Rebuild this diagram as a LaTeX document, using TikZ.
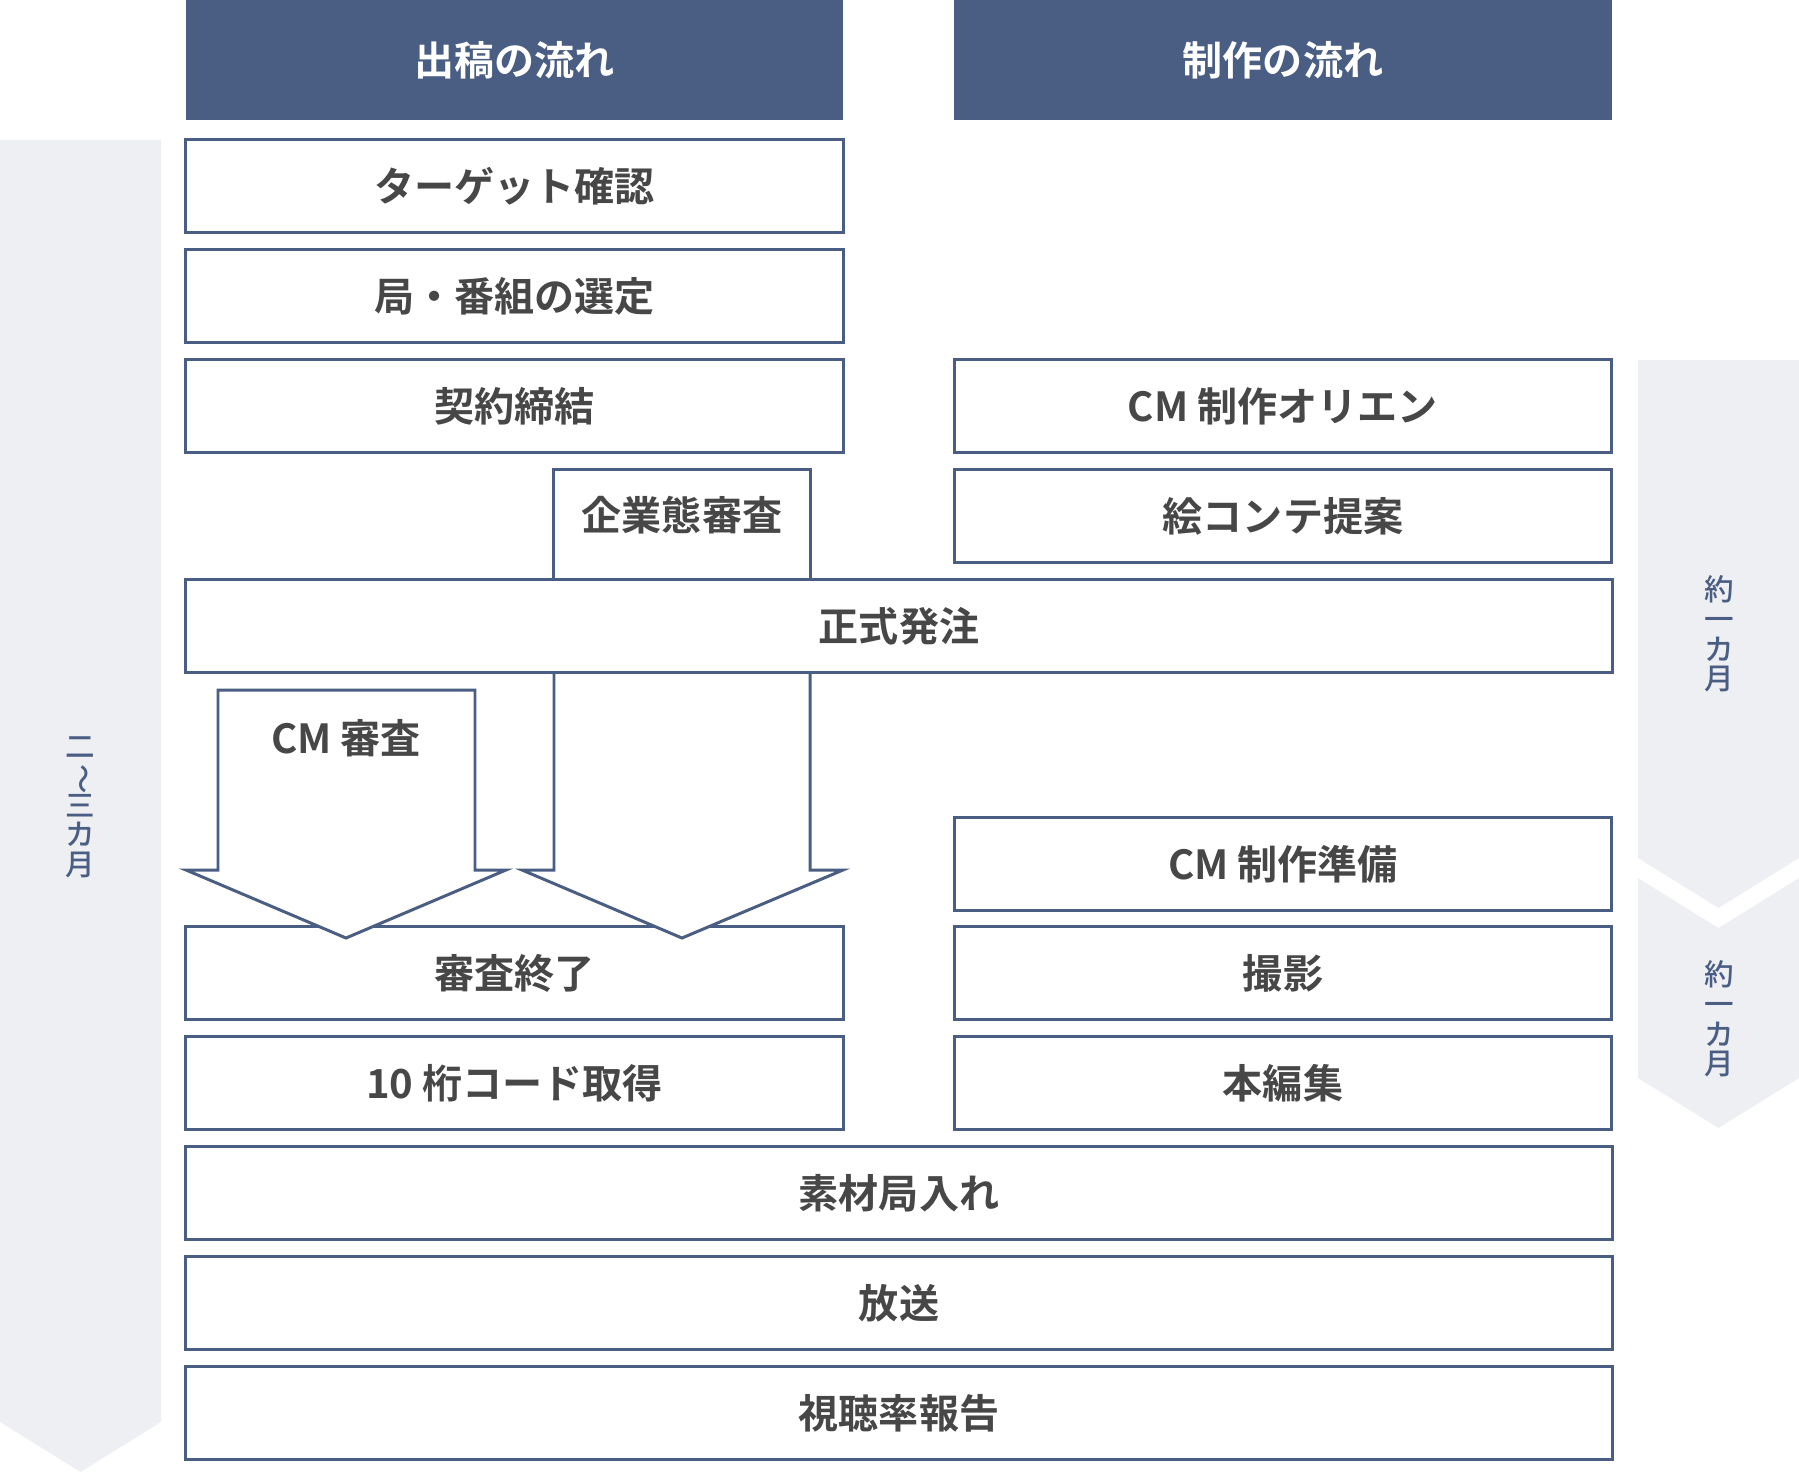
\documentclass[tikz,border=0pt]{standalone}
\usepackage{fontspec}
\setmainfont{Noto Sans CJK JP}[BoldFont={Noto Sans CJK JP Bold}]
\newfontfamily\cjkmedium{Noto Sans CJK JP Medium}
\usepackage{graphicx}
\usepackage{xcolor}
\usepackage{tikz}
\definecolor{cmnavy}{HTML}{4A5E83}
\definecolor{cmmist}{HTML}{EEEFF3}
\definecolor{cmink}{HTML}{474747}
\newcommand{\vwave}{\smash{\rotatebox[origin=c]{-90}{〜}}}
\lineskiplimit=-10pt

\begin{document}
\begin{tikzpicture}[x=0.01cm, y=-0.01cm, line width=0.85pt,
  stepbox/.style={draw=cmnavy, fill=white, minimum height=0.92cm, inner sep=0pt,
    text=cmink, font=\fontsize{11.4}{13}\selectfont\bfseries},
  halfbox/.style={stepbox, minimum width=6.57cm},
  widebox/.style={stepbox, minimum width=14.26cm},
  headbox/.style={fill=cmnavy, minimum width=6.57cm, minimum height=1.2cm, inner sep=0pt,
    text=white, font=\fontsize{11.4}{13}\selectfont\bfseries},
  period/.style={fill=cmmist},
  periodtext/.style={text=cmnavy, align=center, inner sep=0pt,
    font=\fontsize{8.4}{8.4}\selectfont\cjkmedium}]

  \useasboundingbox (0,0) rectangle (1799,1472);

  % -- how long it takes: pale chevrons at both sides ----------------------
  \fill[period] (0,140) -- (161,140) -- (161,1422) -- (80.5,1472) -- (0,1422) -- cycle;
  \fill[period] (1638,360) -- (1799,360) -- (1799,858) -- (1718.5,908) -- (1638,858) -- cycle;
  \fill[period] (1638,878) -- (1718.5,928) -- (1799,878) -- (1799,1078) -- (1718.5,1128) -- (1638,1078) -- cycle;
  \node[periodtext] (spanall) at (80,807) {二\\\vwave\\三\\カ\\月};
  \node[periodtext] (spanplan) at (1719,634) {約\\一\\カ\\月};
  \node[periodtext] (spanshoot) at (1719,1019) {約\\一\\カ\\月};

  % -- column heads --------------------------------------------------------
  \node[headbox] (adhead) at (514.5,60) {出稿の流れ};
  \node[headbox] (prodhead) at (1283,60) {制作の流れ};

  % -- placing the spot ----------------------------------------------------
  \node[halfbox] (target) at (514.5,186) {ターゲット確認};
  \node[halfbox] (station) at (514.5,296) {局・番組の選定};
  \node[halfbox] (contract) at (514.5,406) {契約締結};
  \node[stepbox, minimum width=2.56cm, minimum height=1.1cm, text depth=0.23cm]
    (screening) at (682,525) {企業態審査};
  \node[halfbox] (reviewend) at (514.5,973) {審査終了};
  \node[halfbox] (code) at (514.5,1083) {10 桁コード取得};

  % -- making the spot -----------------------------------------------------
  \node[halfbox] (orien) at (1283,406) {CM 制作オリエン};
  \node[halfbox] (storyboard) at (1283,516) {絵コンテ提案};
  \node[halfbox] (prep) at (1283,864) {CM 制作準備};
  \node[halfbox] (shoot) at (1283,973) {撮影};
  \node[halfbox] (edit) at (1283,1083) {本編集};

  % -- steps both sides share ----------------------------------------------
  \node[widebox] (order) at (899,626) {正式発注};
  \node[widebox] (delivery) at (899,1193) {素材局入れ};
  \node[widebox] (onair) at (899,1303) {放送};
  \node[widebox] (report) at (899,1413) {視聴率報告};

  % -- the two big arrows down into the end of the review ------------------
  \draw[cmnavy, fill=white] (218,690) -- (218,870) -- (186,870) -- (346,938)
    -- (506,870) -- (475,870) -- (475,690) -- cycle;
  \node[text=cmink, font=\fontsize{11.4}{13}\selectfont\bfseries] (cmreview) at (346,738) {CM 審査};
  \draw[cmnavy, fill=white] (554,674) -- (554,870) -- (522,870) -- (682,938)
    -- (843,870) -- (810,870) -- (810,674);

\end{tikzpicture}
\end{document}
